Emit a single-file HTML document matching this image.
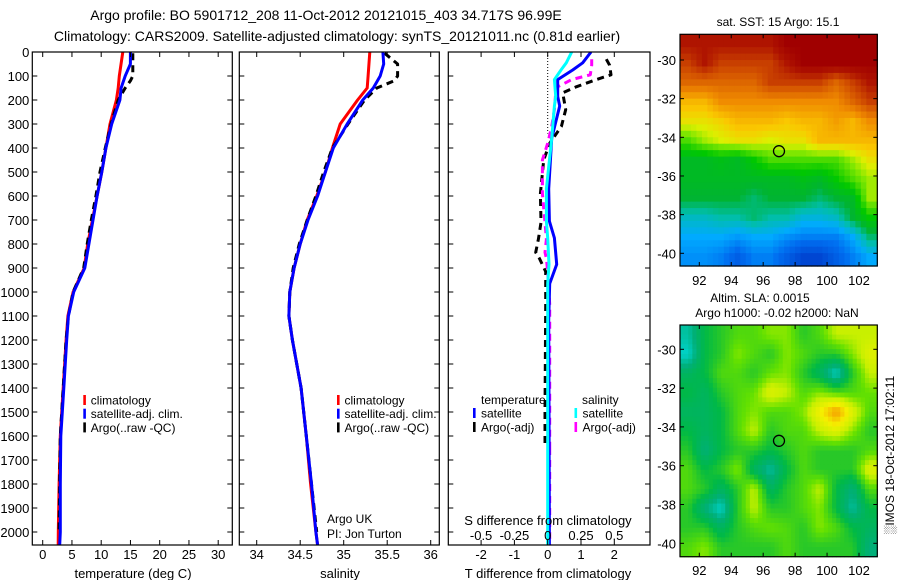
<!DOCTYPE html>
<html><head><meta charset="utf-8">
<style>
html,body{margin:0;padding:0;background:#fff;}
svg{display:block;font-family:"Liberation Sans",sans-serif;}
text{fill:#000;}
</style></head>
<body>
<svg id="fig" width="900" height="580" viewBox="0 0 900 580" xmlns="http://www.w3.org/2000/svg">
<text x="326" y="20" font-size="14" text-anchor="middle">Argo profile: BO 5901712_208 11-Oct-2012 20121015_403 34.717S 96.99E</text>
<text x="337" y="41" font-size="14" text-anchor="middle">Climatology: CARS2009. Satellite-adjusted climatology: synTS_20121011.nc (0.81d earlier)</text>
<g id="p1"></g>
<g id="p2"></g>
<g id="p3"></g>
<g id="m1"></g>
<g id="m2"></g>
<text x="327" y="523" font-size="12">Argo UK</text>
<text x="327" y="538" font-size="12">PI: Jon Turton</text>
<text x="778" y="26" font-size="12" text-anchor="middle">sat. SST: 15 Argo: 15.1</text>
<text x="760" y="302" font-size="12" text-anchor="middle">Altim. SLA: 0.0015</text>
<text x="777" y="317" font-size="12" text-anchor="middle">Argo h1000: -0.02 h2000: NaN</text>
<text transform="translate(894,455) rotate(-90)" font-size="12" text-anchor="middle">&#x2591;IMOS 18-Oct-2012 17:02:11</text>
</svg>
<script>
// ---------------- data ----------------
const depthTicks=[0,100,200,300,400,500,600,700,800,900,1000,1100,1200,1300,1400,1500,1600,1700,1800,1900,2000];
const tempTicks=[0,5,10,15,20,25,30];
const salTicks=[34,34.5,35,35.5,36];
const salTickLabels=["34","34.5","35","35.5","36"];
const tdTicks=[-2,-1,0,1,2];
const sdTicks=[-0.5,-0.25,0,0.25,0.5];
const sdTickLabels=["-0.5","-0.25","0","0.25","0.5"];

const climDepth=[0,100,150,200,300,400,500,600,700,800,900,1000,1100,1200,1400,1600,1800,2000,2054];
const climTemp=[13.7,13.1,12.9,12.6,11.5,10.8,10.1,9.3,8.5,7.7,7.1,5.2,4.3,4.0,3.5,3.0,2.8,2.67,2.65];
const climSal=[35.30,35.28,35.27,35.16,34.96,34.87,34.79,34.69,34.58,34.50,34.43,34.38,34.37,34.41,34.51,34.57,34.62,34.68,34.70];

const satDepth=[0,50,100,150,200,300,400,500,600,700,800,900,1000,1100,1200,1400,1600,1800,2000,2054];
const satTemp=[15.0,15.0,14.1,13.4,13.2,11.8,10.8,10.1,9.3,8.6,7.9,7.2,5.3,4.4,4.1,3.6,3.1,3.0,3.0,2.9];
const satSal=[35.45,35.46,35.42,35.34,35.22,35.04,34.88,34.79,34.70,34.59,34.50,34.43,34.38,34.37,34.41,34.51,34.57,34.63,34.68,34.70];

const argoDepth=[5,50,100,120,150,200,300,400,500,600,700,800,900,1000,1100,1200,1400,1600,1800,2000];
const argoTemp=[15.4,15.4,15.4,15.0,14.1,12.9,11.7,10.7,9.8,9.1,8.3,7.6,7.0,5.2,4.4,4.0,3.5,3.0,2.9,2.8];
const argoSal=[35.47,35.62,35.62,35.58,35.38,35.24,35.05,34.87,34.77,34.68,34.58,34.49,34.42,34.38,34.37,34.41,34.51,34.57,34.63,34.69];

const dDepth=[0,45,75,115,185,225,360,570,705,775,885,965,1115,1500,2054];
const dSatT=[1.3,1.05,0.75,0.3,0.3,0.36,0.12,0.03,0.05,0.2,0.27,0.06,0.03,0.04,0.05];
const dSatS=[0.18,0.14,0.1,0.05,0.06,0.05,0.03,-0.01,-0.01,0.0,0.01,0.0,0.0,0.0,0.0];
const dArgoDepth=[30,55,95,115,145,170,240,310,380,450,590,710,780,835,860,915,1050,1500,1650];
const dArgoT=[1.76,1.86,1.9,1.46,0.86,0.45,0.54,0.41,0.06,-0.12,-0.22,-0.2,-0.28,-0.36,-0.25,-0.06,-0.06,-0.08,-0.08];
const dArgoS=[0.33,0.33,0.32,0.18,0.075,0.06,0.05,0.03,0.0,-0.04,-0.04,-0.02,-0.01,-0.02,-0.01,0.0,0.015,0.015,0.015];
const dArgoSDeep=[0.015,0.015];
const dArgoSDeepDepth=[1650,2054];

const lonTicks=[92,94,96,98,100,102];
const sstLatTicks=[-30,-32,-34,-36,-38,-40];
const sstGrid=[
[18.5,18.5,18.5,18.5,18.5,18.5,19,19,19,19,19,19],
[18,18.5,18,18,18,18,18.5,19,19,19,19,19],
[17.5,17.5,17.5,17.5,17.5,18,18,18,18,17.5,18,18.5],
[16.5,16.5,17,17,17,17,17,17,17,17,17.5,18],
[16,16,16.2,16.5,16.5,16.5,16.3,16.5,16.5,16.8,16.5,17],
[15,15.5,15.8,16,16,15.8,16,16,16.5,16.5,16.5,16.5],
[14,14,14.2,14,14.5,15,15,15,15,15,15.5,16],
[14,14,14,14,14,14,14,14.2,14,14.5,15,15.5],
[13.8,13.8,13.8,13.8,13.5,13.8,13.8,13.8,13.5,13.8,14,15.5],
[13,13,13.2,13.2,13.5,13.2,13.2,12.8,12.8,13,13.8,14.5],
[12.5,12.5,12.5,12.3,12.5,12.5,12.2,12,12,12,12.5,13.5],
[12.2,12.2,12,11.5,12,12,11.5,11,11,11.5,12,12.5]];
const slaGrid=[
[-0.4,-0.1,0,0.1,0.1,0.2,0.2,0,0.1,0.3,0.3,0.3],
[-0.5,-0.1,0,0.2,0.1,0,0.2,0.1,0,0,0.2,0.4],
[-0.2,-0.1,0.1,0.1,0,0.15,0.2,0,-0.2,-0.5,0,0.3],
[-0.1,-0.2,0,0.1,0.15,0.4,0.3,0.1,0.2,0.1,0.1,0.15],
[-0.2,-0.2,-0.1,0.1,0.2,0.1,0.1,0.2,0.5,0.8,0.4,0.1],
[-0.1,-0.2,-0.1,0.1,0.3,0,0.1,0.1,0.3,0.4,0.2,0],
[0,-0.3,-0.1,0,0,-0.1,0,0.1,0,0,0,0.1],
[0.1,-0.1,0,0.2,-0.2,-0.4,-0.1,0.1,0,0,0,0.4],
[0.1,0,-0.2,0,0.3,-0.2,0,0.1,0.3,-0.1,-0.3,0.1],
[0,-0.3,-0.5,0,0.3,0,0,0.1,0.2,-0.1,-0.4,-0.1],
[0,0,-0.2,0,0.1,0.15,0.1,0,0.2,0.1,-0.1,-0.2],
[0.1,0.2,0,0,0,0,0.1,0,0,0,0,-0.3]];
const argoLon=96.99, argoLat=-34.717;

// ---------------- helpers ----------------
const NS="http://www.w3.org/2000/svg";
function mk(parent,tag,attrs){const e=document.createElementNS(NS,tag);for(const k in attrs)e.setAttribute(k,attrs[k]);parent.appendChild(e);return e;}
function txt(parent,x,y,s,anchor,size){const t=mk(parent,'text',{x:x,y:y,'font-size':size||12,'text-anchor':anchor||'middle'});t.textContent=s;return t;}
const Y0=52, YS=0.24, BOT=545;
const yD=d=>Y0+d*YS;
const xT=v=>42.7+v*5.85;
const xS=v=>256.7+(v-34)*87;
const xTD=v=>547.7+v*33.3;
const xSD=v=>547.7+v*133.2;

function box(g,x0,x1,name){
  const r=mk(g,'rect',{x:x0,y:Y0,width:x1-x0,height:BOT-Y0,fill:'none',stroke:'#000','stroke-width':1.2});
  
  
}
function yTicks(g,x0,x1,labels){
  depthTicks.forEach(d=>{const y=yD(d);
    mk(g,'line',{x1:x0,y1:y,x2:x0+5,y2:y,stroke:'#000'});
    mk(g,'line',{x1:x1-5,y1:y,x2:x1,y2:y,stroke:'#000'});
    if(labels){const t=txt(g,x0-3,y+5,String(d),'end',13);
      
      }
  });
}
function xTicks(g,ticks,labels,fx,ly){
  ticks.forEach((v,i)=>{const x=fx(v);
    mk(g,'line',{x1:x,y1:BOT,x2:x,y2:BOT-5,stroke:'#000'});
    mk(g,'line',{x1:x,y1:Y0,x2:x,y2:Y0+5,stroke:'#000'});
    const t=txt(g,x,ly,labels[i],'middle',13);
    
    
  });
}
function line(g,depths,vals,fx,color,dash,name,clip){
  const pts=depths.map((d,i)=>fx(vals[i]).toFixed(1)+','+yD(d).toFixed(1)).join(' ');
  const a={points:pts,fill:'none',stroke:color,'stroke-width':3,'stroke-linejoin':'round'};
  if(dash)a['stroke-dasharray']=dash;
  if(clip)a['clip-path']='url(#'+clip+')';
  const p=mk(g,'polyline',a);
  
  
}
function legend(g,x,items){
  items.forEach((it,i)=>{
    const y=400+i*13.7;
    const r=mk(g,'rect',{x:x,y:y-5,width:2.6,height:10,fill:it[1]});
    
    
    const t=txt(g,x+7.5,y+4.5,it[0],'start',12);
    
    
  });
}
const svg=document.getElementById('fig');
const defs=mk(svg,'defs',{});
[['c1',32.3,232.3],['c2',239.3,439.3],['c3',448.3,650]].forEach(c=>{
  const cp=mk(defs,'clipPath',{id:c[0]});mk(cp,'rect',{x:c[1],y:Y0,width:c[2]-c[1],height:BOT-Y0});
});

// ---------------- panel 1 ----------------
const p1=document.getElementById('p1');
line(p1,climDepth,climTemp,xT,'#ff0000',null,'climatology-temp-line','c1');
line(p1,argoDepth,argoTemp,xT,'#000000','7,5','argo-temp-line','c1');
line(p1,satDepth,satTemp,xT,'#0000ff',null,'satellite-temp-line','c1');
box(p1,32.3,232.3,'temperature-axes');
yTicks(p1,32.3,232.3,true);
xTicks(p1,tempTicks,tempTicks.map(String),xT,559);
let t=txt(p1,133,578,'temperature (deg C)','middle',13);


legend(p1,83.3,[['climatology','#ff0000'],['satellite-adj. clim.','#0000ff'],['Argo(..raw -QC)','#000000']]);

// ---------------- panel 2 ----------------
const p2=document.getElementById('p2');
line(p2,climDepth,climSal,xS,'#ff0000',null,'climatology-sal-line','c2');
line(p2,argoDepth,argoSal,xS,'#000000','7,5','argo-sal-line','c2');
line(p2,satDepth,satSal,xS,'#0000ff',null,'satellite-sal-line','c2');
box(p2,239.3,439.3,'salinity-axes');
yTicks(p2,239.3,439.3,false);
xTicks(p2,salTicks,salTickLabels,xS,559);
t=txt(p2,340,578,'salinity','middle',13);


legend(p2,337,[['climatology','#ff0000'],['satellite-adj. clim.','#0000ff'],['Argo(..raw -QC)','#000000']]);

// ---------------- panel 3 ----------------
const p3=document.getElementById('p3');
mk(p3,'line',{x1:547.7,y1:Y0,x2:547.7,y2:yD(340),stroke:'#000','stroke-dasharray':'1,2','stroke-width':1});
line(p3,dArgoDepth,dArgoT,xTD,'#000000','7,5','argo-temp-diff-line','c3');
line(p3,dArgoDepth,dArgoS,xSD,'#ff00ff','7,5','argo-sal-diff-line','c3');
line(p3,dArgoSDeepDepth,dArgoSDeep,xSD,'#ff00ff','7,5','argo-sal-diff-deep-line','c3');
line(p3,dDepth,dSatT,xTD,'#0000ff',null,'satellite-temp-diff-line','c3');
line(p3,dDepth,dSatS,xSD,'#00ffff',null,'satellite-sal-diff-line','c3');
box(p3,448.3,650,'difference-axes');
yTicks(p3,448.3,650,false);
sdTicks.forEach((v,i)=>{const x=xSD(v);
  const tt=txt(p3,x,540,sdTickLabels[i],'middle',13);
  
  });
xTicks(p3,tdTicks,tdTicks.map(String),xTD,559);
t=txt(p3,548,525,'S difference from climatology','middle',13);


t=txt(p3,548,578,'T difference from climatology','middle',13);


t=txt(p3,481,404,'temperature','start',12);


t=txt(p3,582,404,'salinity','start',12);


[[473,'#0000ff','satellite',413],[473,'#000000','Argo(-adj)',427],[574.5,'#00ffff','satellite',413],[574.5,'#ff00ff','Argo(-adj)',427]].forEach(it=>{
  const r=mk(p3,'rect',{x:it[0],y:it[3]-5,width:2.6,height:10,fill:it[1]});
  
  
  const tt=txt(p3,it[0]+8,it[3]+4.5,it[2],'start',12);
  
  
});

// ---------------- maps ----------------
function colFrom(stops,v){
  if(v<=stops[0][0])return 'rgb('+stops[0][1].join(',')+')';
  for(let i=1;i<stops.length;i++){if(v<=stops[i][0]){const a=stops[i-1],b=stops[i],f=(v-a[0])/(b[0]-a[0]);
    return 'rgb('+[0,1,2].map(k=>Math.round(a[1][k]+(b[1][k]-a[1][k])*f)).join(',')+')';}}
  return 'rgb('+stops[stops.length-1][1].join(',')+')';
}
const sstStops=[[11,[0,70,210]],[11.8,[0,110,240]],[12.5,[0,170,255]],[13.2,[0,190,170]],[13.8,[0,180,50]],[14.5,[0,200,0]],[15.3,[120,230,0]],[15.8,[220,240,0]],[16.3,[250,200,0]],[17,[240,140,0]],[17.8,[210,80,0]],[18.5,[175,20,0]],[19,[160,0,0]]];
const slaStops=[[-0.5,[0,210,200]],[-0.3,[0,175,120]],[-0.1,[0,185,70]],[0,[40,200,40]],[0.15,[100,225,0]],[0.3,[200,240,0]],[0.5,[245,240,0]],[0.7,[245,180,0]],[0.9,[240,140,0]]];
function sample(grid,gy,gx){
  const R=grid.length,C=grid[0].length;
  gy=Math.max(0,Math.min(R-1,gy));gx=Math.max(0,Math.min(C-1,gx));
  const r0=Math.floor(gy),c0=Math.floor(gx),r1=Math.min(R-1,r0+1),c1=Math.min(C-1,c0+1);
  const fy=gy-r0,fx=gx-c0;
  return grid[r0][c0]*(1-fy)*(1-fx)+grid[r0][c1]*(1-fy)*fx+grid[r1][c0]*fy*(1-fx)+grid[r1][c1]*fy*fx;
}
function drawMap(gid,grid,stops,sub,x0,x1,y0,y1,lat30y,lat40y,latTicks,lonLabelY,name){
  const g=document.getElementById(gid);
  const lonX=l=>699.3+(l-92)*15.97;
  const latY=l=>lat30y+(-30-l)*(lat40y-lat30y)/10;
  const rows=grid.length*sub, cols=grid[0].length*sub;
  const cw=(x1-x0)/cols, ch=(y1-y0)/rows;
  for(let r=0;r<rows;r++)for(let c=0;c<cols;c++){
    const v=sample(grid,(r+0.5)/sub-0.5,(c+0.5)/sub-0.5);
    const cell=mk(g,'rect',{x:(x0+c*cw).toFixed(2),y:(y0+r*ch).toFixed(2),width:(cw+0.6).toFixed(2),height:(ch+0.6).toFixed(2),fill:colFrom(stops,v)});
    
    
  }
  const b=mk(g,'rect',{x:x0,y:y0,width:x1-x0,height:y1-y0,fill:'none',stroke:'#000','stroke-width':1.2});
  
  
  latTicks.forEach(l=>{const y=latY(l);
    mk(g,'line',{x1:x0,y1:y,x2:x0+4,y2:y,stroke:'#000'});
    mk(g,'line',{x1:x1-4,y1:y,x2:x1,y2:y,stroke:'#000'});
    const tt=txt(g,x0-4,y+5,String(l),'end',13);
    
    });
  lonTicks.forEach(l=>{const x=lonX(l);
    mk(g,'line',{x1:x,y1:y0,x2:x,y2:y0+4,stroke:'#000'});
    mk(g,'line',{x1:x,y1:y1-4,x2:x,y2:y1,stroke:'#000'});
    const tt=txt(g,x,lonLabelY,String(l),'middle',13);
    
    });
  const c=mk(g,'circle',{cx:lonX(argoLon),cy:latY(argoLat),r:5.5,fill:'none',stroke:'#000','stroke-width':1.3});
  
  
}
drawMap('m1',sstGrid,sstStops,3,680,877.3,34.3,266,60,253.3,sstLatTicks,285,'sst-map');
drawMap('m2',slaGrid,slaStops,4,680,877.3,325,556.7,349.3,543.3,sstLatTicks,575,'sla-map');
</script>
</body></html>
